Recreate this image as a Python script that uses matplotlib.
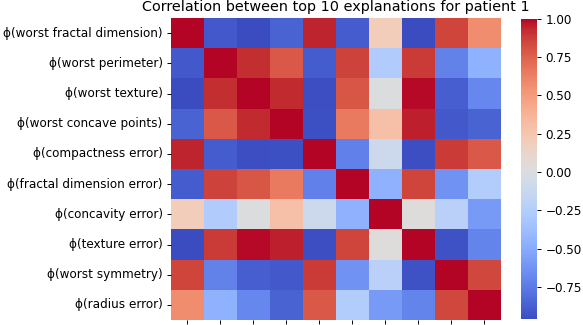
import matplotlib
matplotlib.use("Agg")
import matplotlib.pyplot as plt
import numpy as np
import pandas as pd
import seaborn as sns

# features (top 10 explanations)
features = [
    "worst fractal dimension", "worst perimeter", "worst texture",
    "worst concave points", "compactness error", "fractal dimension error",
    "concavity error", "texture error", "worst symmetry", "radius error",
]
labels = ["ϕ(" + f + ")" for f in features]

# correlation values, read row by row (upper triangle incl. diagonal)
row0 = [1.00, -0.90, -0.96, -0.86, 0.94, -0.89, 0.20, -0.96, 0.85, 0.57]
row1 = [1.00, 0.92, 0.78, -0.89, 0.86, -0.27, 0.88, -0.71, -0.45]
row2 = [1.00, 0.93, -0.95, 0.79, 0.01, 0.99, -0.88, -0.69]
row3 = [1.00, -0.94, 0.65, 0.29, 0.95, -0.90, -0.86]
row4 = [1.00, -0.72, -0.10, -0.95, 0.88, 0.78]
row5 = [1.00, -0.45, 0.85, -0.63, -0.26]
row6 = [1.00, 0.03, -0.21, -0.59]
row7 = [1.00, -0.93, -0.70]
row8 = [1.00, 0.84]
row9 = [1.00]
rows = [row0, row1, row2, row3, row4, row5, row6, row7, row8, row9]

n = len(features)
corr = np.zeros((n, n))
for i, r in enumerate(rows):
    corr[i, i:] = r
    corr[i:, i] = r
df = pd.DataFrame(corr, index=labels, columns=labels)

DPI = 86.4
fig = plt.figure(figsize=(583 / DPI, 325 / DPI), dpi=DPI)
ax = fig.add_axes([0.2933, 0.0154, 0.566, 0.929])
cax = fig.add_axes([0.8937, 0.017, 0.0274, 0.926])

sns.heatmap(df, cmap="coolwarm", ax=ax, cbar_ax=cax, xticklabels=False)
ax.set_xticks(np.arange(n) + 0.5)
ax.set_xticklabels([""] * n)
ax.set_title("Correlation between top 10 explanations for patient 1", fontsize=12)
ax.tick_params(axis="y", labelsize=10)
cax.tick_params(labelsize=10)

fig.savefig("out.png", dpi=DPI)
